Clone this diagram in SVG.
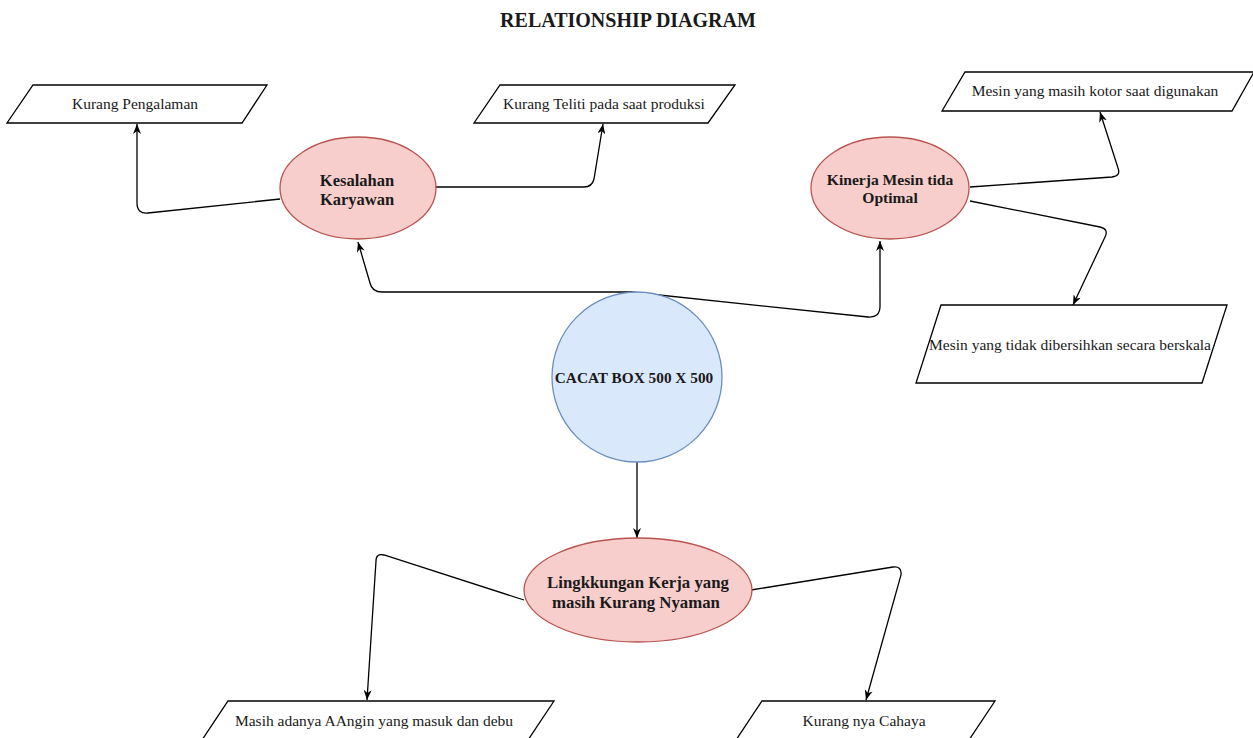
<svg xmlns="http://www.w3.org/2000/svg" width="1253" height="738" viewBox="0 0 1253 738">
<style>
.t{font-family:"Liberation Serif","Times New Roman",serif;fill:#1a1a1a;text-anchor:middle}
.r{font-size:15.5px}
.b{font-weight:bold}
.para{fill:#ffffff;stroke:#000000;stroke-width:1.3}
.ell{fill:#f8cecc;stroke:#b85450;stroke-width:1.3}
.circ{fill:#dae8fc;stroke:#6c8ebf;stroke-width:1.3}
.edge{fill:none;stroke:#000000;stroke-width:1.3;marker-end:url(#arr)}
</style>
<defs>
<marker id="arr" viewBox="0 0 10 8" refX="10" refY="4" markerWidth="10" markerHeight="8" markerUnits="userSpaceOnUse" orient="auto">
<path d="M0,0 L10,4 L0,8 L3,4 z" fill="#000"/>
</marker>
</defs>
<rect width="1253" height="738" fill="#ffffff"/>
<text class="t b" x="628" y="27" font-size="20">RELATIONSHIP DIAGRAM</text>

<g id="connectors">
<path class="edge" d="M280 199 L148 213 Q137 214 137 203 L137 124"/>
<path class="edge" d="M436 187 L584 187 Q592 187 594 179 L603 124"/>
<path class="edge" d="M631 292 L382 292 Q372 292 370 283 L358 242"/>
<path class="edge" d="M631 292 L868 317 Q880 318 880 306 L880 241"/>
<path class="edge" d="M970 187 L1112 177 Q1121 176 1118 168 L1100 112"/>
<path class="edge" d="M970 201 L1100 227 Q1109 229 1105 237 L1073 305"/>
<path class="edge" d="M637 462 L637 538"/>
<path class="edge" d="M524 600 L384 555 Q376 553 376 561 L367 700"/>
<path class="edge" d="M751 590 L893 567 Q902 566 901 575 L866 700"/>
</g>

<g id="n-pengalaman">
<polygon class="para" points="33,85 267,85 242,123 7,123"/>
<text class="t r" x="135" y="109">Kurang Pengalaman</text>
</g>
<g id="n-teliti">
<polygon class="para" points="500,85 735,85 708,123 474,123"/>
<text class="t r" x="604" y="109">Kurang Teliti pada saat produksi</text>
</g>
<g id="n-kotor">
<polygon class="para" points="965,72 1254,72 1232,111 942,111"/>
<text class="t r" x="1095" y="96">Mesin yang masih kotor saat digunakan</text>
</g>
<g id="n-tidak">
<polygon class="para" points="941,305 1227,305 1202,383 916,383"/>
<text class="t r" x="1070" y="350">Mesin yang tidak dibersihkan secara berskala</text>
</g>
<g id="n-kesalahan">
<ellipse class="ell" cx="358" cy="188" rx="78" ry="51"/>
<text class="t b" x="357" y="186" font-size="16.5">Kesalahan</text>
<text class="t b" x="357" y="205" font-size="16.5">Karyawan</text>
</g>
<g id="n-kinerja">
<ellipse class="ell" cx="890" cy="188" rx="79" ry="51"/>
<text class="t b" x="890" y="185" font-size="15.6">Kinerja Mesin tida</text>
<text class="t b" x="890" y="203" font-size="15.6">Optimal</text>
</g>
<g id="n-cacat">
<circle class="circ" cx="637" cy="377" r="85"/>
<text class="t b" x="634" y="383" font-size="15.3">CACAT BOX 500 X 500</text>
</g>
<g id="n-lingkungan">
<ellipse class="ell" cx="638" cy="590" rx="114" ry="52"/>
<text class="t b" x="638" y="588" font-size="16.8">Lingkkungan Kerja yang</text>
<text class="t b" x="636" y="608" font-size="16.8">masih Kurang Nyaman</text>
</g>
<g id="n-angin">
<polygon class="para" points="228,701 554,701 528,740 202,740"/>
<text class="t r" x="374" y="726">Masih adanya AAngin yang masuk dan debu</text>
</g>
<g id="n-cahaya">
<polygon class="para" points="762,701 995,701 969,740 736,740"/>
<text class="t r" x="864" y="726">Kurang nya Cahaya</text>
</g>
</svg>
